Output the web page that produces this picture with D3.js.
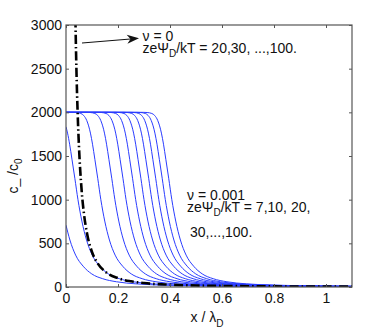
<!DOCTYPE html>
<html>
<head>
<meta charset="utf-8">
<script src="https://cdn.jsdelivr.net/npm/d3@7"></script>
<style>
  body { margin: 0; background: #fff; }
  text { font-family: "Liberation Sans", Arial, sans-serif; fill: #111; }
</style>
</head>
<body>
<div id="chart"></div>
<script>
"use strict"

// concentration levels the saturated curves (psi = 20 ... 100) pass through
const levels = [2000, 2000, 1998, 1987, 1964, 1905, 1762, 1635, 1462, 1245, 1000, 755, 538, 365, 238, 150, 95, 60, 36, 21, 14, 10, 6.3, 4.3];

// x / lambda_D where each saturated curve reaches those levels
const x20  = [0, 0.024, 0.039, 0.057, 0.068, 0.080, 0.094, 0.102, 0.111, 0.122, 0.134, 0.149, 0.167, 0.189, 0.218, 0.251, 0.293, 0.346, 0.421, 0.534, 0.634, 0.734, 0.934, 1.134];
const x30  = [0, 0.078, 0.093, 0.111, 0.122, 0.134, 0.148, 0.156, 0.165, 0.176, 0.188, 0.203, 0.221, 0.243, 0.272, 0.305, 0.347, 0.400, 0.475, 0.588, 0.688, 0.788, 0.988, 1.188];
const x40  = [0, 0.121, 0.136, 0.154, 0.165, 0.177, 0.191, 0.199, 0.208, 0.219, 0.231, 0.246, 0.264, 0.286, 0.315, 0.348, 0.390, 0.443, 0.518, 0.631, 0.731, 0.831, 1.031, 1.231];
const x50  = [0, 0.158, 0.173, 0.191, 0.202, 0.214, 0.228, 0.236, 0.245, 0.256, 0.268, 0.283, 0.301, 0.323, 0.352, 0.385, 0.427, 0.480, 0.555, 0.668, 0.768, 0.868, 1.068, 1.268];
const x60  = [0, 0.190, 0.205, 0.223, 0.234, 0.246, 0.260, 0.268, 0.277, 0.288, 0.300, 0.315, 0.333, 0.355, 0.384, 0.417, 0.459, 0.512, 0.587, 0.700, 0.800, 0.900, 1.100, 1.300];
const x70  = [0, 0.220, 0.235, 0.253, 0.264, 0.276, 0.290, 0.298, 0.307, 0.318, 0.330, 0.345, 0.363, 0.385, 0.414, 0.447, 0.489, 0.542, 0.617, 0.730, 0.830, 0.930, 1.130, 1.330];
const x80  = [0, 0.247, 0.262, 0.280, 0.291, 0.303, 0.317, 0.325, 0.334, 0.345, 0.357, 0.372, 0.390, 0.412, 0.441, 0.474, 0.516, 0.569, 0.644, 0.757, 0.857, 0.957, 1.157, 1.357];
const x90  = [0, 0.272, 0.287, 0.305, 0.316, 0.328, 0.342, 0.350, 0.359, 0.370, 0.382, 0.397, 0.415, 0.437, 0.466, 0.499, 0.541, 0.594, 0.669, 0.782, 0.882, 0.982, 1.182, 1.382];
const x100 = [0, 0.297, 0.312, 0.330, 0.341, 0.353, 0.367, 0.375, 0.384, 0.395, 0.407, 0.422, 0.440, 0.462, 0.491, 0.524, 0.566, 0.619, 0.694, 0.807, 0.907, 1.007, 1.207, 1.407];

// the two unsaturated curves (psi = 7 and 10)
const x7  = [0, 0.015, 0.037, 0.066, 0.099, 0.141, 0.194, 0.269, 0.382, 0.482, 0.582, 0.782, 0.982, 1.1];
const c7  = [708, 538, 365, 238, 150, 95, 60, 36, 21, 14, 10, 6.3, 4.3, 3.6];
const x10 = [0, 0.006, 0.014, 0.023, 0.034, 0.046, 0.061, 0.079, 0.101, 0.130, 0.163, 0.205, 0.258, 0.333, 0.446, 0.546, 0.646, 0.846, 1.046, 1.1];
const c10 = [1834, 1762, 1635, 1462, 1245, 1000, 755, 538, 365, 238, 150, 95, 60, 36, 21, 14, 10, 6.3, 4.3, 3.9];

// nu = 0 curve (dash-dot)
const dashX = [0.035, 0.04, 0.045, 0.05, 0.06, 0.07, 0.08, 0.1, 0.12, 0.15, 0.2, 0.25, 0.3, 0.4, 0.5, 0.6, 0.8, 1.0, 1.1];
const dashC = [3266, 2501, 1976, 1601, 1112, 817, 626, 401, 279, 178, 101, 65, 45, 26, 17, 12, 7, 4.7, 4];

const xTicks = [0, 0.2, 0.4, 0.6, 0.8, 1];
const xTickLabels = ["0", "0.2", "0.4", "0.6", "0.8", "1"];
const yTicks = [0, 500, 1000, 1500, 2000, 2500, 3000];

document.addEventListener('DOMContentLoaded', function(){
  drawChart();
});

function drawChart(){
  let width = 388, height = 332;
  let left = 66, right = 352, top = 25, bottom = 287;

  let svg = d3.select('#chart').append('svg')
    .attr('width', width)
    .attr('height', height);

  let xScale = d3.scaleLinear().domain([0, 1.1]).range([left, right]);
  let yScale = d3.scaleLinear().domain([0, 3000]).range([bottom, top]);

  svg.append('clipPath').attr('id', 'plot-clip')
    .append('rect')
    .attr('x', left).attr('y', top)
    .attr('width', right - left).attr('height', bottom - top);

  let line = d3.line()
    .x(d => xScale(d[0]))
    .y(d => yScale(d[1]))
    .curve(d3.curveMonotoneX);

  let blueCurves = [
    d3.zip(x7, c7), d3.zip(x10, c10),
    d3.zip(x20, levels), d3.zip(x30, levels), d3.zip(x40, levels),
    d3.zip(x50, levels), d3.zip(x60, levels), d3.zip(x70, levels),
    d3.zip(x80, levels), d3.zip(x90, levels), d3.zip(x100, levels)
  ];

  let plot = svg.append('g').attr('clip-path', 'url(#plot-clip)');

  plot.selectAll('path.blue')
    .data(blueCurves)
    .enter()
    .append('path')
    .attr('class', 'blue')
    .attr('d', line)
    .attr('fill', 'none')
    .attr('stroke', '#2a3cff')
    .attr('stroke-width', 1);

  plot.append('path')
    .attr('d', line(d3.zip(dashX, dashC)))
    .attr('fill', 'none')
    .attr('stroke', '#000')
    .attr('stroke-width', 2.6)
    .attr('stroke-dasharray', '9,3,1.5,3');

  // axes: labels bottom/left, inward ticks on all four sides
  svg.append('g')
    .attr('transform', 'translate(0,' + bottom + ')')
    .call(d3.axisBottom(xScale).tickValues(xTicks).tickFormat((d, i) => xTickLabels[i])
      .tickSizeInner(-3).tickSizeOuter(0).tickPadding(6));
  svg.append('g')
    .attr('transform', 'translate(0,' + top + ')')
    .call(d3.axisTop(xScale).tickValues(xTicks).tickFormat('')
      .tickSizeInner(-3).tickSizeOuter(0));
  svg.append('g')
    .attr('transform', 'translate(' + left + ',0)')
    .call(d3.axisLeft(yScale).tickValues(yTicks).tickFormat(d3.format('d'))
      .tickSizeInner(-3).tickSizeOuter(0).tickPadding(4));
  svg.append('g')
    .attr('transform', 'translate(' + right + ',0)')
    .call(d3.axisRight(yScale).tickValues(yTicks).tickFormat('')
      .tickSizeInner(-3).tickSizeOuter(0));

  svg.selectAll('.domain').remove();
  svg.selectAll('.tick line').attr('stroke', '#555');
  svg.selectAll('.tick text')
    .attr('font-size', 14)
    .attr('font-family', '"Liberation Sans", Arial, sans-serif')
    .attr('fill', '#111');

  svg.append('rect')
    .attr('x', left).attr('y', top)
    .attr('width', right - left).attr('height', bottom - top)
    .attr('fill', 'none')
    .attr('stroke', '#555')
    .attr('stroke-width', 1.2);

  // axis titles
  let xl = svg.append('text')
    .attr('x', 207).attr('y', 322)
    .attr('text-anchor', 'middle')
    .attr('font-size', 14)
    .text('x / λ');
  xl.append('tspan').attr('dy', 5).attr('font-size', 10).text('D');

  let yl = svg.append('text')
    .attr('transform', 'translate(17.5,176) rotate(-90)')
    .attr('text-anchor', 'middle')
    .attr('font-size', 14)
    .text('c_ /c');
  yl.append('tspan').attr('dy', 4).attr('font-size', 10).text('0');

  // annotations
  svg.append('text').attr('x', 142.5).attr('y', 41).attr('font-size', 14).text('ν = 0');
  let a1 = svg.append('text').attr('x', 142.5).attr('y', 52.5).attr('font-size', 14).text('zeΨ');
  a1.append('tspan').attr('dy', 4).attr('font-size', 10).text('D');
  a1.append('tspan').attr('dy', -4).text('/kT = 20,30, ...,100.');

  svg.append('text').attr('x', 187).attr('y', 200).attr('font-size', 14).text('ν = 0.001');
  let a2 = svg.append('text').attr('x', 187).attr('y', 212).attr('font-size', 14).text('zeΨ');
  a2.append('tspan').attr('dy', 4).attr('font-size', 10).text('D');
  a2.append('tspan').attr('dy', -4).text('/kT = 7,10, 20,');
  svg.append('text').attr('x', 190).attr('y', 237).attr('font-size', 14).text('30,...,100.');

  // arrow pointing at the nu = 0 label
  let p0 = [82, 43], p1 = [139, 38.3];
  let len = Math.hypot(p1[0] - p0[0], p1[1] - p0[1]);
  let ux = (p1[0] - p0[0]) / len, uy = (p1[1] - p0[1]) / len;
  let headL = 12, headW = 4.5;
  svg.append('line')
    .attr('x1', p0[0]).attr('y1', p0[1])
    .attr('x2', p1[0] - ux * 8).attr('y2', p1[1] - uy * 8)
    .attr('stroke', '#111').attr('stroke-width', 1);
  let bx = p1[0] - ux * headL, by = p1[1] - uy * headL;
  let nx = p1[0] - ux * 8.5, ny = p1[1] - uy * 8.5;
  svg.append('path')
    .attr('d', 'M' + p1[0] + ',' + p1[1] +
      'L' + (bx - uy * headW) + ',' + (by + ux * headW) +
      'L' + nx + ',' + ny +
      'L' + (bx + uy * headW) + ',' + (by - ux * headW) + 'Z')
    .attr('fill', '#111');
}
</script>
</body>
</html>
